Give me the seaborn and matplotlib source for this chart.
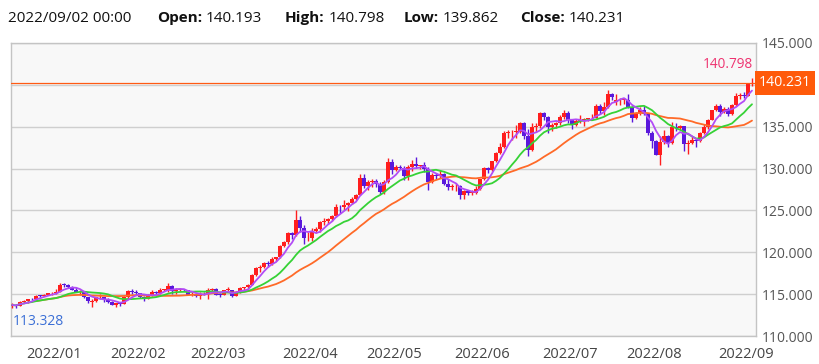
import numpy as np
import pandas as pd
import matplotlib
matplotlib.use("Agg")
import matplotlib.pyplot as plt
import matplotlib.transforms as mtransforms
import seaborn as sns

sns.set_style("white")
plt.rcParams['font.family'] = ['Open Sans', 'DejaVu Sans']

# ---------------- data (USD/JPY daily) ----------------
start_date = "2021-12-17"
end_date = "2022-09-02"

dec_open = [113.55, 113.70, 113.62, 114.08, 114.15, 114.40, 114.38, 114.82, 114.80, 114.95, 115.08]
dec_high = [113.90, 113.80, 114.15, 114.30, 114.45, 114.50, 114.90, 114.95, 115.00, 115.15, 115.20]
dec_low = [113.328, 113.40, 113.55, 113.95, 114.00, 114.30, 114.35, 114.70, 114.75, 114.85, 114.95]
dec_close = [113.70, 113.62, 114.08, 114.15, 114.40, 114.38, 114.82, 114.80, 114.95, 115.08, 115.10]

jan_open = [115.10, 115.30, 116.12, 116.10, 115.85, 115.55, 115.20, 115.30, 114.60, 114.05, 114.20,
            114.60, 114.60, 114.30, 114.10, 113.70, 113.95, 113.85, 114.65, 115.35, 115.25]
jan_high = [115.60, 116.35, 116.30, 116.20, 116.00, 115.85, 115.45, 115.40, 114.70, 114.40, 114.70,
            115.05, 114.70, 114.50, 114.15, 114.00, 114.10, 114.75, 115.50, 115.65, 115.45]
jan_low = [115.05, 115.25, 115.80, 115.70, 115.55, 115.20, 114.95, 114.50, 114.00, 113.50, 114.10,
           114.40, 114.10, 114.00, 113.65, 113.50, 113.60, 113.80, 114.55, 115.05, 114.90]
jan_close = [115.30, 116.12, 116.10, 115.85, 115.55, 115.20, 115.30, 114.60, 114.20, 114.20, 114.60,
             114.60, 114.30, 114.10, 113.70, 113.95, 113.85, 114.65, 115.35, 115.25, 115.10]

feb_open = [115.10, 114.65, 114.45, 114.95, 115.25, 115.10, 115.55, 115.55, 116.00, 115.40,
            115.55, 115.60, 115.45, 114.90, 115.00, 114.75, 115.05, 115.00, 115.50, 115.60]
feb_high = [115.15, 114.80, 115.05, 115.45, 115.35, 115.70, 115.65, 116.35, 116.05, 115.70,
            115.75, 115.65, 115.55, 115.20, 115.15, 115.20, 115.25, 115.70, 115.75, 115.75]
feb_low = [114.55, 114.15, 114.40, 114.75, 114.90, 115.05, 115.40, 115.30, 115.00, 115.00,
           115.35, 115.35, 114.85, 114.80, 114.70, 114.40, 114.90, 114.40, 115.35, 114.85]
feb_close = [114.65, 114.45, 114.95, 115.25, 115.10, 115.55, 115.55, 116.00, 115.40, 115.55,
             115.60, 115.45, 114.90, 115.00, 114.75, 115.05, 115.00, 115.50, 115.60, 114.95]

mar_open = [114.95, 114.90, 115.50, 115.50, 114.80, 115.30, 115.70, 115.85, 116.15, 117.30, 118.15, 118.30,
            118.70, 118.60, 119.15, 119.40, 120.80, 121.20, 122.30, 122.05, 123.85, 122.85, 121.65]
mar_high = [115.15, 115.55, 115.80, 115.55, 115.40, 115.80, 115.90, 116.20, 117.35, 118.20, 118.45, 118.80,
            119.00, 119.40, 119.45, 120.90, 121.40, 122.45, 122.45, 125.10, 124.30, 123.20, 122.40]
mar_low = [114.70, 114.85, 115.35, 114.65, 114.80, 115.10, 115.50, 115.75, 116.10, 117.20, 117.70, 118.15,
           118.30, 118.50, 118.95, 119.30, 120.60, 121.00, 121.60, 121.95, 122.40, 121.00, 121.30]
mar_close = [114.90, 115.50, 115.50, 114.80, 115.30, 115.70, 115.85, 116.15, 117.30, 118.15, 118.30, 118.70,
             118.60, 119.15, 119.40, 120.80, 121.20, 122.30, 122.05, 123.85, 122.85, 121.65, 121.70]

apr_open = [121.70, 122.50, 122.80, 123.60, 123.75, 123.95, 124.30, 125.40, 125.35, 125.60, 125.90,
            126.40, 126.90, 128.90, 127.90, 128.40, 128.50, 128.10, 127.20, 128.40, 130.80]
apr_high = [122.90, 123.00, 123.70, 124.05, 124.10, 124.50, 125.75, 125.65, 126.30, 126.00, 126.55,
            127.00, 129.40, 129.40, 128.65, 128.80, 128.70, 128.40, 128.60, 131.25, 131.20]
apr_low = [121.30, 122.30, 122.40, 123.30, 123.40, 123.75, 124.25, 124.70, 125.00, 124.90, 125.80,
           126.20, 126.80, 127.70, 127.50, 127.80, 127.80, 126.95, 127.00, 128.30, 129.30]
apr_close = [122.50, 122.80, 123.60, 123.75, 123.95, 124.30, 125.40, 125.35, 125.60, 125.90, 126.40,
             126.90, 128.90, 127.90, 128.40, 128.50, 128.10, 127.20, 128.40, 130.80, 129.80]

may_open = [129.80, 130.15, 130.10, 129.10, 130.20, 130.55, 130.30, 130.45, 130.00, 128.35, 129.25,
            129.10, 129.35, 128.20, 127.80, 127.90, 127.90, 126.85, 127.30, 127.10, 127.10, 127.60]
may_high = [130.40, 130.40, 130.35, 130.45, 131.00, 131.35, 130.45, 130.80, 130.20, 129.50, 129.50,
            129.80, 129.45, 128.75, 128.20, 128.25, 128.00, 127.50, 127.50, 127.40, 127.90, 128.80]
may_low = [129.70, 129.90, 128.60, 128.60, 129.75, 130.10, 129.90, 129.60, 127.50, 128.25, 128.80,
           128.90, 128.00, 127.50, 127.50, 127.30, 126.35, 126.40, 126.85, 126.80, 126.95, 127.50]
may_close = [130.15, 130.10, 129.10, 130.20, 130.55, 130.30, 130.45, 129.95, 128.35, 129.25, 129.10,
             129.35, 128.20, 127.80, 127.90, 127.90, 126.85, 127.30, 127.10, 127.10, 127.60, 128.70]

jun_open = [128.70, 130.05, 129.85, 130.85, 131.90, 132.60, 134.25, 134.35, 134.40, 134.40, 135.45,
            133.95, 132.20, 134.95, 135.05, 136.65, 136.20, 134.95, 135.20, 135.45, 136.15, 136.60]
jun_high = [130.20, 130.20, 130.95, 132.00, 133.00, 134.50, 134.55, 134.60, 135.20, 135.60, 135.60,
            134.70, 135.45, 135.45, 136.70, 136.70, 136.30, 135.40, 135.55, 136.35, 137.00, 136.90]
jun_low = [128.60, 129.50, 129.70, 130.75, 131.70, 132.50, 133.60, 133.40, 133.60, 134.20, 133.50,
           131.50, 132.10, 134.35, 134.90, 135.80, 134.30, 134.50, 134.90, 135.20, 135.90, 135.50]
jun_close = [130.05, 129.85, 130.85, 131.90, 132.60, 134.25, 134.35, 134.40, 134.40, 135.45, 133.95,
             132.20, 134.95, 135.05, 136.65, 136.20, 134.95, 135.20, 135.45, 136.15, 136.60, 135.75]

jul_open = [135.75, 135.20, 135.70, 135.85, 135.90, 136.00, 136.10, 137.45, 136.85, 137.40, 138.95,
            138.00, 138.15, 138.20, 138.20, 137.40, 136.10, 136.65, 136.95, 136.55, 134.25]
jul_high = [135.90, 135.90, 136.40, 136.00, 136.10, 136.55, 137.70, 137.75, 137.90, 139.40, 139.00,
            138.90, 138.40, 138.40, 138.90, 137.50, 136.70, 137.40, 137.45, 136.60, 134.50]
jul_low = [134.75, 135.10, 135.50, 135.10, 135.70, 135.80, 136.00, 136.50, 136.40, 137.25, 138.20,
           137.60, 137.60, 137.70, 137.20, 135.55, 135.90, 136.40, 136.40, 134.00, 132.50]
jul_close = [135.20, 135.70, 135.85, 135.90, 136.00, 136.10, 137.45, 136.85, 137.40, 138.95, 138.55,
             138.15, 138.20, 138.20, 137.40, 136.10, 136.65, 136.95, 136.55, 134.25, 133.25]

aug_open = [133.25, 131.60, 133.15, 133.85, 133.00, 135.00, 134.90, 135.05, 132.90, 133.05, 133.45, 133.25,
            134.20, 134.95, 135.85, 136.95, 137.50, 136.80, 137.10, 136.55, 137.60, 138.70, 138.75]
aug_high = [133.40, 133.90, 134.55, 134.00, 135.55, 135.40, 135.20, 135.10, 133.40, 133.90, 133.60, 134.40,
            135.30, 135.95, 137.05, 137.75, 137.70, 137.40, 137.30, 137.70, 139.00, 139.00, 139.10]
aug_low = [131.60, 130.40, 132.90, 132.55, 132.90, 134.50, 134.60, 132.05, 131.75, 132.90, 132.55, 133.20,
           134.10, 134.70, 135.80, 136.90, 136.25, 136.60, 136.25, 136.40, 137.50, 138.30, 138.40]
aug_close = [131.60, 133.15, 133.85, 133.00, 135.00, 134.90, 135.05, 132.90, 133.05, 133.45, 133.25, 134.20,
             134.95, 135.85, 136.95, 137.50, 136.80, 137.10, 136.55, 137.60, 138.70, 138.75, 138.70]

sep_open = [138.70, 140.193]
sep_high = [140.25, 140.798]
sep_low = [138.65, 139.862]
sep_close = [140.19, 140.231]

y_ticks = [110, 115, 120, 125, 130, 135, 140, 145]
last_label = "2022/09/02 00:00"

# ---------------- assemble ----------------
opens = dec_open + jan_open + feb_open + mar_open + apr_open + may_open + jun_open + jul_open + aug_open + sep_open
highs = dec_high + jan_high + feb_high + mar_high + apr_high + may_high + jun_high + jul_high + aug_high + sep_high
lows = dec_low + jan_low + feb_low + mar_low + apr_low + may_low + jun_low + jul_low + aug_low + sep_low
closes = dec_close + jan_close + feb_close + mar_close + apr_close + may_close + jun_close + jul_close + aug_close + sep_close

dates = pd.bdate_range(start_date, end_date)
df = pd.DataFrame({"date": dates, "open": opens, "high": highs, "low": lows, "close": closes})
df["idx"] = np.arange(len(df))
df["ma5"] = df["close"].rolling(5, min_periods=1).mean()
df["ma13"] = df["close"].rolling(13, min_periods=1).mean()
df["ma25"] = df["close"].rolling(25, min_periods=7).mean()

W, H = 819, 364
fig = plt.figure(figsize=(W / 100, H / 100), dpi=100)
ax = fig.add_axes([11 / W, 28 / H, 745 / W, 293 / H])
ax.set_facecolor("#f8f8f8")

UP = "#ff1e1e"
DOWN = "#5a18dc"
is_up = (df["close"] >= df["open"]).to_numpy()
cols = np.where(is_up, UP, DOWN)

ax.vlines(df["idx"], df["low"], df["high"], colors=cols, lw=1.0, zorder=3)
bottom = np.minimum(df["open"], df["close"])
height = np.maximum((df["close"] - df["open"]).abs(), 0.07)
ax.bar(df["idx"], height, bottom=bottom, width=0.8, color=cols, linewidth=0, zorder=4)

sns.lineplot(data=df, x="idx", y="ma25", color="#ff6a28", lw=1.3, ax=ax, zorder=5)
sns.lineplot(data=df, x="idx", y="ma13", color="#36d236", lw=1.3, ax=ax, zorder=5)
sns.lineplot(data=df, x="idx", y="ma5", color="#b24cf6", lw=1.3, ax=ax, zorder=6)

ax.set_xlim(-0.25, 186)
ax.set_ylim(110, 145)
ax.set_xlabel("")
ax.set_ylabel("")

# y axis on the right (140 label is hidden behind the last-price tag in the reference)
ax.yaxis.tick_right()
ax.set_yticks(y_ticks)
ax.set_yticklabels(["" if v == 140 else f"{v:.3f}" for v in y_ticks])
ax.tick_params(axis="y", length=0, pad=4, labelsize=10, labelcolor="#555555")
ax.yaxis.grid(True, color="#cfcfcf", lw=1.0, zorder=0)
ax.set_axisbelow(True)

# month ticks at first trading day of each month
df["ym"] = df["date"].dt.strftime("%Y/%m")
firsts = df.groupby("ym")["idx"].first()
firsts = firsts[firsts.index >= "2022/01"]
ax.set_xticks(firsts.values - 0.5)
ax.set_xticklabels(firsts.index)
ax.tick_params(axis="x", direction="inout", length=6, color="#aaaaaa", pad=5,
               labelsize=10.5, labelcolor="#444444")

for s in ax.spines.values():
    s.set_color("#c4c4c4")
    s.set_linewidth(1.0)

# last price line and label
last_close = closes[-1]
ax.axhline(last_close, color="#ff5a14", lw=0.9, zorder=7)
trans = mtransforms.blended_transform_factory(ax.transAxes, ax.transData)
ax.text(1.004, last_close, f"{last_close:.3f}", transform=trans, ha="left", va="center",
        color="white", fontsize=10.2, zorder=10, clip_on=False,
        bbox=dict(boxstyle="square,pad=0.3", fc="#ff5a0a", ec="none"))

# max / min labels
hi = max(highs)
lo = min(lows)
ax.text(185.2, 142.45, f"{hi:.3f}", ha="right", va="center", color="#ee3370", fontsize=9.8, zorder=8)
ax.text(0.3, 111.7, f"{lo:.3f}", ha="left", va="center", color="#3b6fd6", fontsize=10, zorder=8)

# header
fig.canvas.draw()
renderer = fig.canvas.get_renderer()
hy = 1 - 18 / H
fs = 11
fig.text(8 / W, hy, last_label, fontsize=fs, color="#111111", va="center", ha="left")
items = [("Open:", opens[-1], 157), ("High:", highs[-1], 285), ("Low:", lows[-1], 404), ("Close:", closes[-1], 520)]
for lab, val, xpx in items:
    t = fig.text(xpx / W, hy, lab, fontsize=fs, fontweight="bold", color="#111111", va="center", ha="left")
    bb = t.get_window_extent(renderer=renderer)
    fig.text((bb.x1 + 4) / W, hy, f"{val:.3f}", fontsize=fs, color="#111111", va="center", ha="left")

fig.savefig("out.png", dpi=100, facecolor="white")
